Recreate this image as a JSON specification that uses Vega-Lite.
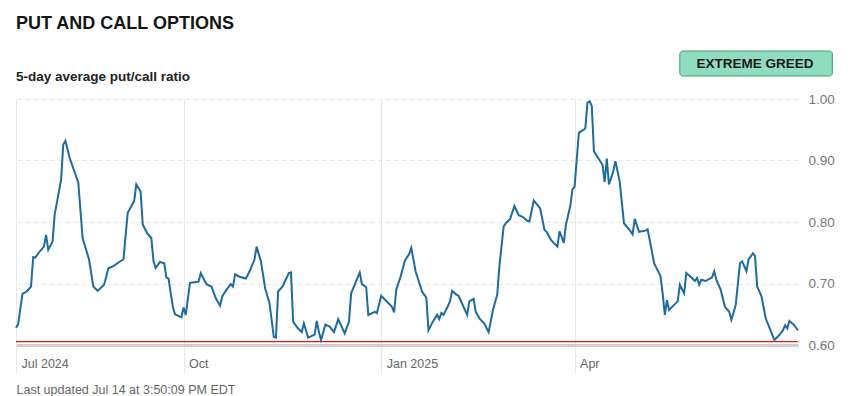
{
  "$schema": "https://vega.github.io/schema/vega-lite/v6.json",
  "width": 782,
  "height": 246,
  "autosize": {"type": "none"},
  "padding": {"left": 16, "top": 99, "right": 66, "bottom": 51},
  "background": "#ffffff",
  "config": {
    "font": "Liberation Sans",
    "view": {"stroke": null}
  },
  "title": {
    "text": "PUT AND CALL OPTIONS",
    "subtitle": "5-day average put/call ratio",
    "anchor": "start",
    "frame": "group",
    "font": "Liberation Sans",
    "fontSize": 18,
    "fontWeight": "bold",
    "color": "#151515",
    "subtitleFont": "Liberation Sans",
    "subtitleFontSize": 13.5,
    "subtitleFontWeight": "bold",
    "subtitleColor": "#222222",
    "subtitlePadding": 37,
    "offset": -33
  },
  "layer": [
    {
      "data": {"values": [{"y": 0.6055}]},
      "mark": {"type": "rule", "color": "#e3161b", "strokeWidth": 1.3},
      "encoding": {"y": {"field": "y", "type": "quantitative"}}
    },
    {
      "data": {
        "values": [
          {"date": "2024-07-15", "ratio": 0.628},
          {"date": "2024-07-16", "ratio": 0.634},
          {"date": "2024-07-18", "ratio": 0.683},
          {"date": "2024-07-20", "ratio": 0.687},
          {"date": "2024-07-22", "ratio": 0.695},
          {"date": "2024-07-23", "ratio": 0.743},
          {"date": "2024-07-24", "ratio": 0.742},
          {"date": "2024-07-26", "ratio": 0.752},
          {"date": "2024-07-28", "ratio": 0.760},
          {"date": "2024-07-29", "ratio": 0.779},
          {"date": "2024-07-30", "ratio": 0.755},
          {"date": "2024-08-01", "ratio": 0.768},
          {"date": "2024-08-02", "ratio": 0.812},
          {"date": "2024-08-05", "ratio": 0.869},
          {"date": "2024-08-06", "ratio": 0.926},
          {"date": "2024-08-07", "ratio": 0.932},
          {"date": "2024-08-09", "ratio": 0.904},
          {"date": "2024-08-13", "ratio": 0.864},
          {"date": "2024-08-15", "ratio": 0.774},
          {"date": "2024-08-18", "ratio": 0.739},
          {"date": "2024-08-20", "ratio": 0.695},
          {"date": "2024-08-22", "ratio": 0.688},
          {"date": "2024-08-25", "ratio": 0.698},
          {"date": "2024-08-26", "ratio": 0.711},
          {"date": "2024-08-27", "ratio": 0.725},
          {"date": "2024-08-28", "ratio": 0.726},
          {"date": "2024-08-30", "ratio": 0.730},
          {"date": "2024-09-01", "ratio": 0.735},
          {"date": "2024-09-03", "ratio": 0.739},
          {"date": "2024-09-05", "ratio": 0.815},
          {"date": "2024-09-08", "ratio": 0.834},
          {"date": "2024-09-09", "ratio": 0.861},
          {"date": "2024-09-11", "ratio": 0.850},
          {"date": "2024-09-12", "ratio": 0.796},
          {"date": "2024-09-14", "ratio": 0.782},
          {"date": "2024-09-16", "ratio": 0.774},
          {"date": "2024-09-17", "ratio": 0.736},
          {"date": "2024-09-18", "ratio": 0.725},
          {"date": "2024-09-20", "ratio": 0.735},
          {"date": "2024-09-22", "ratio": 0.733},
          {"date": "2024-09-23", "ratio": 0.710},
          {"date": "2024-09-24", "ratio": 0.708},
          {"date": "2024-09-26", "ratio": 0.662},
          {"date": "2024-09-27", "ratio": 0.650},
          {"date": "2024-09-30", "ratio": 0.645},
          {"date": "2024-10-01", "ratio": 0.661},
          {"date": "2024-10-02", "ratio": 0.649},
          {"date": "2024-10-04", "ratio": 0.701},
          {"date": "2024-10-06", "ratio": 0.702},
          {"date": "2024-10-08", "ratio": 0.703},
          {"date": "2024-10-09", "ratio": 0.717},
          {"date": "2024-10-11", "ratio": 0.703},
          {"date": "2024-10-12", "ratio": 0.698},
          {"date": "2024-10-14", "ratio": 0.695},
          {"date": "2024-10-16", "ratio": 0.676},
          {"date": "2024-10-18", "ratio": 0.664},
          {"date": "2024-10-19", "ratio": 0.679},
          {"date": "2024-10-21", "ratio": 0.690},
          {"date": "2024-10-23", "ratio": 0.699},
          {"date": "2024-10-24", "ratio": 0.695},
          {"date": "2024-10-25", "ratio": 0.715},
          {"date": "2024-10-27", "ratio": 0.711},
          {"date": "2024-10-30", "ratio": 0.708},
          {"date": "2024-11-01", "ratio": 0.722},
          {"date": "2024-11-03", "ratio": 0.739},
          {"date": "2024-11-04", "ratio": 0.760},
          {"date": "2024-11-06", "ratio": 0.736},
          {"date": "2024-11-08", "ratio": 0.692},
          {"date": "2024-11-10", "ratio": 0.668},
          {"date": "2024-11-12", "ratio": 0.613},
          {"date": "2024-11-13", "ratio": 0.612},
          {"date": "2024-11-14", "ratio": 0.687},
          {"date": "2024-11-16", "ratio": 0.695},
          {"date": "2024-11-17", "ratio": 0.702},
          {"date": "2024-11-19", "ratio": 0.717},
          {"date": "2024-11-20", "ratio": 0.718},
          {"date": "2024-11-21", "ratio": 0.638},
          {"date": "2024-11-23", "ratio": 0.628},
          {"date": "2024-11-25", "ratio": 0.621},
          {"date": "2024-11-26", "ratio": 0.635},
          {"date": "2024-11-28", "ratio": 0.612},
          {"date": "2024-12-01", "ratio": 0.617},
          {"date": "2024-12-02", "ratio": 0.639},
          {"date": "2024-12-03", "ratio": 0.621},
          {"date": "2024-12-04", "ratio": 0.608},
          {"date": "2024-12-06", "ratio": 0.633},
          {"date": "2024-12-08", "ratio": 0.630},
          {"date": "2024-12-10", "ratio": 0.621},
          {"date": "2024-12-12", "ratio": 0.642},
          {"date": "2024-12-15", "ratio": 0.619},
          {"date": "2024-12-17", "ratio": 0.638},
          {"date": "2024-12-18", "ratio": 0.684},
          {"date": "2024-12-20", "ratio": 0.701},
          {"date": "2024-12-22", "ratio": 0.718},
          {"date": "2024-12-23", "ratio": 0.699},
          {"date": "2024-12-25", "ratio": 0.694},
          {"date": "2024-12-26", "ratio": 0.649},
          {"date": "2024-12-29", "ratio": 0.654},
          {"date": "2024-12-30", "ratio": 0.652},
          {"date": "2025-01-01", "ratio": 0.680},
          {"date": "2025-01-06", "ratio": 0.662},
          {"date": "2025-01-07", "ratio": 0.653},
          {"date": "2025-01-08", "ratio": 0.690},
          {"date": "2025-01-10", "ratio": 0.711},
          {"date": "2025-01-12", "ratio": 0.737},
          {"date": "2025-01-14", "ratio": 0.748},
          {"date": "2025-01-15", "ratio": 0.758},
          {"date": "2025-01-17", "ratio": 0.720},
          {"date": "2025-01-18", "ratio": 0.709},
          {"date": "2025-01-20", "ratio": 0.687},
          {"date": "2025-01-22", "ratio": 0.677},
          {"date": "2025-01-23", "ratio": 0.624},
          {"date": "2025-01-25", "ratio": 0.638},
          {"date": "2025-01-27", "ratio": 0.649},
          {"date": "2025-01-28", "ratio": 0.642},
          {"date": "2025-01-29", "ratio": 0.652},
          {"date": "2025-01-30", "ratio": 0.649},
          {"date": "2025-02-01", "ratio": 0.663},
          {"date": "2025-02-02", "ratio": 0.671},
          {"date": "2025-02-03", "ratio": 0.688},
          {"date": "2025-02-05", "ratio": 0.682},
          {"date": "2025-02-06", "ratio": 0.680},
          {"date": "2025-02-10", "ratio": 0.649},
          {"date": "2025-02-11", "ratio": 0.671},
          {"date": "2025-02-13", "ratio": 0.675},
          {"date": "2025-02-14", "ratio": 0.654},
          {"date": "2025-02-16", "ratio": 0.642},
          {"date": "2025-02-18", "ratio": 0.635},
          {"date": "2025-02-20", "ratio": 0.621},
          {"date": "2025-02-22", "ratio": 0.657},
          {"date": "2025-02-24", "ratio": 0.682},
          {"date": "2025-02-25", "ratio": 0.728},
          {"date": "2025-02-27", "ratio": 0.793},
          {"date": "2025-02-28", "ratio": 0.798},
          {"date": "2025-03-02", "ratio": 0.805},
          {"date": "2025-03-04", "ratio": 0.826},
          {"date": "2025-03-06", "ratio": 0.811},
          {"date": "2025-03-08", "ratio": 0.808},
          {"date": "2025-03-10", "ratio": 0.802},
          {"date": "2025-03-11", "ratio": 0.801},
          {"date": "2025-03-13", "ratio": 0.835},
          {"date": "2025-03-16", "ratio": 0.822},
          {"date": "2025-03-18", "ratio": 0.787},
          {"date": "2025-03-19", "ratio": 0.784},
          {"date": "2025-03-21", "ratio": 0.771},
          {"date": "2025-03-24", "ratio": 0.760},
          {"date": "2025-03-25", "ratio": 0.785},
          {"date": "2025-03-27", "ratio": 0.766},
          {"date": "2025-03-28", "ratio": 0.796},
          {"date": "2025-03-30", "ratio": 0.826},
          {"date": "2025-03-31", "ratio": 0.853},
          {"date": "2025-04-01", "ratio": 0.857},
          {"date": "2025-04-03", "ratio": 0.945},
          {"date": "2025-04-06", "ratio": 0.952},
          {"date": "2025-04-07", "ratio": 0.994},
          {"date": "2025-04-08", "ratio": 0.996},
          {"date": "2025-04-09", "ratio": 0.989},
          {"date": "2025-04-10", "ratio": 0.915},
          {"date": "2025-04-12", "ratio": 0.904},
          {"date": "2025-04-14", "ratio": 0.893},
          {"date": "2025-04-15", "ratio": 0.865},
          {"date": "2025-04-16", "ratio": 0.903},
          {"date": "2025-04-17", "ratio": 0.861},
          {"date": "2025-04-19", "ratio": 0.882},
          {"date": "2025-04-20", "ratio": 0.899},
          {"date": "2025-04-22", "ratio": 0.866},
          {"date": "2025-04-24", "ratio": 0.798},
          {"date": "2025-04-27", "ratio": 0.785},
          {"date": "2025-04-28", "ratio": 0.780},
          {"date": "2025-04-29", "ratio": 0.805},
          {"date": "2025-05-01", "ratio": 0.784},
          {"date": "2025-05-04", "ratio": 0.786},
          {"date": "2025-05-05", "ratio": 0.788},
          {"date": "2025-05-07", "ratio": 0.752},
          {"date": "2025-05-08", "ratio": 0.733},
          {"date": "2025-05-11", "ratio": 0.712},
          {"date": "2025-05-12", "ratio": 0.684},
          {"date": "2025-05-13", "ratio": 0.649},
          {"date": "2025-05-14", "ratio": 0.673},
          {"date": "2025-05-15", "ratio": 0.657},
          {"date": "2025-05-17", "ratio": 0.664},
          {"date": "2025-05-19", "ratio": 0.671},
          {"date": "2025-05-20", "ratio": 0.698},
          {"date": "2025-05-22", "ratio": 0.684},
          {"date": "2025-05-23", "ratio": 0.717},
          {"date": "2025-05-25", "ratio": 0.711},
          {"date": "2025-05-27", "ratio": 0.704},
          {"date": "2025-05-28", "ratio": 0.709},
          {"date": "2025-05-29", "ratio": 0.698},
          {"date": "2025-05-30", "ratio": 0.706},
          {"date": "2025-06-01", "ratio": 0.704},
          {"date": "2025-06-04", "ratio": 0.710},
          {"date": "2025-06-05", "ratio": 0.720},
          {"date": "2025-06-06", "ratio": 0.706},
          {"date": "2025-06-08", "ratio": 0.690},
          {"date": "2025-06-10", "ratio": 0.662},
          {"date": "2025-06-12", "ratio": 0.654},
          {"date": "2025-06-13", "ratio": 0.641},
          {"date": "2025-06-15", "ratio": 0.665},
          {"date": "2025-06-17", "ratio": 0.733},
          {"date": "2025-06-18", "ratio": 0.736},
          {"date": "2025-06-20", "ratio": 0.720},
          {"date": "2025-06-21", "ratio": 0.739},
          {"date": "2025-06-23", "ratio": 0.749},
          {"date": "2025-06-24", "ratio": 0.745},
          {"date": "2025-06-25", "ratio": 0.695},
          {"date": "2025-06-27", "ratio": 0.679},
          {"date": "2025-06-29", "ratio": 0.643},
          {"date": "2025-07-02", "ratio": 0.617},
          {"date": "2025-07-03", "ratio": 0.608},
          {"date": "2025-07-05", "ratio": 0.615},
          {"date": "2025-07-07", "ratio": 0.624},
          {"date": "2025-07-08", "ratio": 0.632},
          {"date": "2025-07-09", "ratio": 0.627},
          {"date": "2025-07-10", "ratio": 0.639},
          {"date": "2025-07-12", "ratio": 0.633},
          {"date": "2025-07-14", "ratio": 0.624}
        ]
      },
      "mark": {"type": "line", "color": "#1f6b9a", "strokeWidth": 2, "interpolate": "linear"},
      "encoding": {
        "x": {
          "field": "date",
          "type": "temporal",
          "scale": {
            "type": "utc",
            "nice": false,
            "domain": [
              {"year": 2024, "month": 7, "date": 15, "utc": true},
              {"year": 2025, "month": 7, "date": 14, "utc": true}
            ]
          },
          "axis": {
            "orient": "bottom",
            "values": [
              {"year": 2024, "month": 7, "date": 15, "utc": true},
              {"year": 2024, "month": 10, "date": 1, "utc": true},
              {"year": 2025, "month": 1, "date": 1, "utc": true},
              {"year": 2025, "month": 4, "date": 1, "utc": true}
            ],
            "labelExpr": "(utcmonth(datum.value) == 0 || utcmonth(datum.value) == 6) ? utcFormat(datum.value, '%b %Y') : utcFormat(datum.value, '%b')",
            "labelAlign": "left",
            "labelBaseline": "top",
            "labelOffset": 5,
            "labelPadding": -16,
            "labelFontSize": 12.5,
            "labelColor": "#666666",
            "labelFont": "Liberation Sans",
            "grid": true,
            "gridColor": "#e9e9e9",
            "gridWidth": 1,
            "ticks": true,
            "tickSize": 28,
            "tickColor": "#e9e9e9",
            "domain": true,
            "domainColor": "#cfcfcf",
            "domainWidth": 3,
            "title": "Last updated Jul 14 at 3:50:09 PM EDT",
            "titleAnchor": "start",
            "titleAlign": "left",
            "titleBaseline": "top",
            "titleFont": "Liberation Sans",
            "titleFontSize": 12.5,
            "titleFontWeight": "normal",
            "titleColor": "#666666",
            "titlePadding": 10
          }
        },
        "y": {
          "field": "ratio",
          "type": "quantitative",
          "scale": {"domain": [0.6, 1.0], "nice": false, "zero": false},
          "axis": {
            "orient": "right",
            "values": [0.6, 0.7, 0.8, 0.9, 1.0],
            "format": ".2f",
            "labelFont": "Liberation Sans",
            "labelFontSize": 13.5,
            "labelColor": "#777777",
            "labelPadding": 10,
            "domain": false,
            "ticks": false,
            "grid": true,
            "gridColor": "#e4e4e4",
            "gridDash": [4, 4],
            "gridWidth": 1,
            "title": null
          }
        }
      }
    },
    {
      "data": {"values": [{"label": "EXTREME GREED"}]},
      "mark": {"type": "rect", "fill": "#8fdcc0", "stroke": "#3e9d79", "strokeWidth": 1, "cornerRadius": 3},
      "encoding": {
        "x": {"datum": {"year": 2025, "month": 5, "date": 20, "utc": true}, "type": "temporal"},
        "x2": {"datum": {"year": 2025, "month": 7, "date": 30, "utc": true}},
        "y": {"datum": 1.0374, "type": "quantitative"},
        "y2": {"datum": 1.078}
      }
    },
    {
      "data": {"values": [{"label": "EXTREME GREED"}]},
      "mark": {"type": "text", "font": "Liberation Sans", "fontSize": 13.5, "fontWeight": "bold", "color": "#1a1a1a", "align": "center", "baseline": "middle"},
      "encoding": {
        "x": {"datum": {"year": 2025, "month": 6, "date": 24, "utc": true}, "type": "temporal"},
        "y": {"datum": 1.0569, "type": "quantitative"},
        "text": {"field": "label"}
      }
    }
  ]
}
